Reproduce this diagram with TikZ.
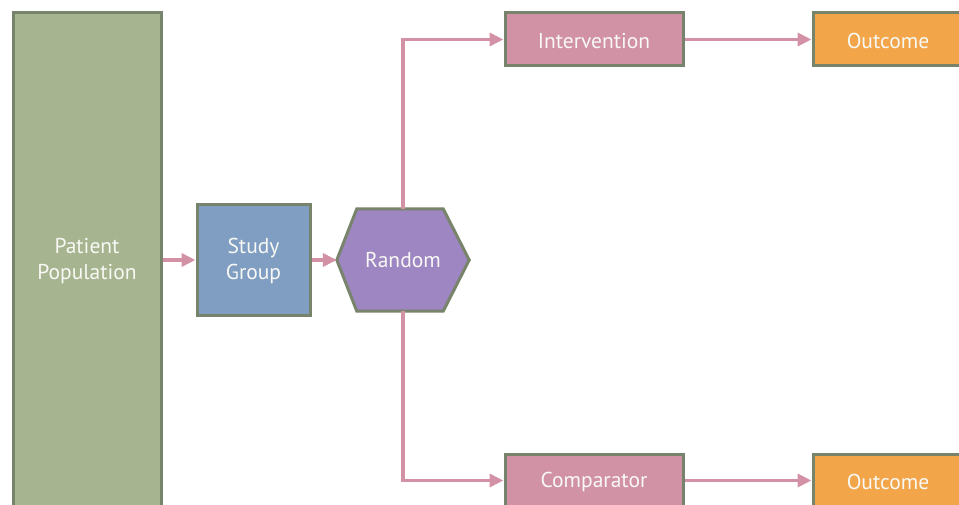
\documentclass[tikz,border=0pt]{standalone}
\usepackage{fontspec}
\setmainfont{PT Sans}
\usetikzlibrary{arrows.meta,calc}
\definecolor{bord}{HTML}{77836A}
\definecolor{cgreen}{HTML}{A6B590}
\definecolor{cblue}{HTML}{7F9EC2}
\definecolor{cpurple}{HTML}{9E86C2}
\definecolor{cpink}{HTML}{D192A6}
\definecolor{corange}{HTML}{F2A649}
\definecolor{ctext}{HTML}{F8F8F4}
\definecolor{carrow}{HTML}{D291A5}
\tikzset{
  lbl/.style={text=ctext, font=\fontsize{21.5}{26}\selectfont, align=center},
  box/.style={draw=bord, line width=3pt, lbl, inner sep=0pt},
  arr/.style={draw=carrow, line width=3.5pt, -{Triangle[length=14pt,width=13pt]}},
}
\begin{document}
\begin{tikzpicture}[x=1pt,y=-1pt]
\useasboundingbox (0,0) rectangle (959,505);
\clip (0,0) rectangle (959,505);
\node[box, fill=cgreen, minimum width=148pt, minimum height=520pt] (pp) at (87,273) {};
\node[lbl] (pptext) at (87,261) {Patient\\Population};
\node[box, fill=cblue, minimum width=113pt, minimum height=110pt] (sg) at (253.5,260) {};
\node[lbl] (sgt) at (253.5,261) {Study\\Group};
\node[minimum width=132pt, minimum height=102pt, inner sep=0pt] (rnd) at (403,260) {};
\draw[bord, line width=3pt, fill=cpurple, line join=miter]
  (rnd.west) -- ($(rnd.north west)+(20,0)$) -- ($(rnd.north east)+(-26,0)$) -- (rnd.east)
  -- ($(rnd.south east)+(-26,0)$) -- ($(rnd.south west)+(20,0)$) -- cycle;
\node[lbl] (rndtext) at (403,260.5) {Random};
\node[box, fill=cpink, minimum width=178pt, minimum height=53pt] (int) at (594,39.5) {};
\node[lbl] (intt) at (594,41) {Intervention};
\node[box, fill=cpink, minimum width=178pt, minimum height=53pt] (cmp) at (594,480.5) {};
\node[lbl] (cmpt) at (594,481.5) {Comparator};
\node[box, fill=corange, minimum width=150pt, minimum height=53pt] (o1) at (888,39.5) {};
\node[lbl] (o1t) at (888,40.5) {Outcome};
\node[box, fill=corange, minimum width=150pt, minimum height=53pt] (o2) at (888,480.5) {};
\node[lbl] (o2t) at (888,481.5) {Outcome};
\draw[arr] (pp.east |- sg.west) -- (sg.west);
\draw[arr] (sg.east) -- (rnd.west);
\draw[arr] (rnd.north) |- (int.west);
\draw[arr] (rnd.south) |- (cmp.west);
\draw[arr] (int.east) -- (o1.west);
\draw[arr] (cmp.east) -- (o2.west);
\end{tikzpicture}
\end{document}
